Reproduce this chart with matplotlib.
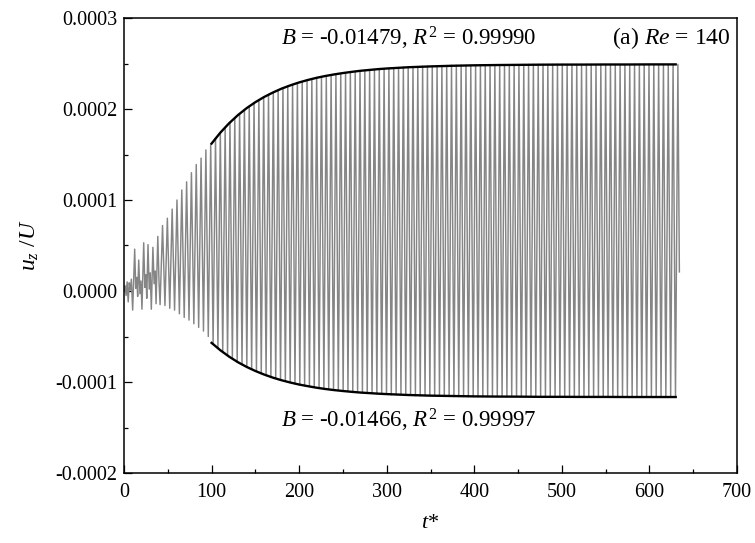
import numpy as np
import matplotlib
matplotlib.use('Agg')
import matplotlib.pyplot as plt
from matplotlib.ticker import MultipleLocator, FuncFormatter

plt.rcParams['font.family'] = ['Liberation Serif', 'DejaVu Serif']
plt.rcParams['mathtext.fontset'] = 'custom'
plt.rcParams['mathtext.rm'] = 'Liberation Serif'
plt.rcParams['mathtext.it'] = 'Liberation Serif:italic'
plt.rcParams['font.size'] = 14.5

# all u_z/U values below are in units of 1e-6

# irregular start of the signal (t*, u_z/U)
t_early = [0, 1.2, 2.4, 3.6, 4.8, 6.0, 7.2, 8.4, 9.9, 12.2, 13.4, 14.6, 15.6, 16.8,
           18.2, 19.4, 20.5, 22.5, 23.8, 25.0, 26.0, 27.4, 28.8, 30.0, 31.2, 33.0,
           34.4, 35.6, 36.6, 38.6, 40.0, 41.2]
u_early = [0, 6, -5, 10, -12, 9, 1, 13, -21, 46, 3, 15, -6, 34,
           -3, 11, -20, 53, 4, 18, -8, 51, 2, 20, -20, 48,
           8, 22, -14, 60, 10, -15]

# regular shedding: one crest and one trough per period, starting at t* = 44
period = 5.5
t_first_crest = 44.0
crests = [72, 80, 90, 100, 111, 120, 130, 139, 146, 155, 161,
          168, 174, 180, 185, 190, 195, 199, 203, 207, 210, 213, 216, 218, 221,
          223, 225, 227, 229, 230, 232, 233, 234, 235, 236, 237, 238, 239, 240,
          241, 241, 242, 242, 243, 243, 244, 244, 245, 245, 245, 246, 246, 246,
          246, 247, 247, 247, 247, 247, 247,
          248, 248, 248, 248, 248, 248, 248, 248, 248, 248, 248, 248, 248, 248, 248,
          249, 249, 249, 249, 249, 249, 249, 249, 249, 249, 249, 249, 249, 249, 249,
          249, 249, 249, 249, 249, 249, 249, 249, 249, 249, 249, 249, 249, 249, 249,
          249, 249, 249]
troughs = [-16, -19, -21, -25, -29, -32, -36, -40, -44, -50,
           -58, -63, -67, -71, -74, -78, -81, -83, -86, -88, -91, -93, -94, -96,
           -98, -99, -100, -102, -103, -104, -105, -106, -107, -107, -108, -109,
           -109, -110, -110, -111, -111, -112, -112, -112, -113, -113, -113, -114,
           -114, -114, -114, -114,
           -115, -115, -115, -115, -115, -115, -115, -115,
           -116, -116, -116, -116, -116, -116, -116, -116, -116, -116, -116, -116,
           -116, -116, -116, -116, -116, -116, -116, -116, -116, -116, -116, -116,
           -116, -116, -116, -116, -116, -116, -116, -116, -116, -116, -116, -116,
           -116, -116, -116, -116, -116, -116, -116, -116, -116, -116, -116]
t_end, u_end = 634.2, 21

# exponential fits of the envelopes
t_fit = [100, 110, 120, 130, 140, 150, 160, 170, 180, 190, 200, 210, 220, 230, 240,
         250, 260, 270, 280, 290, 300, 325, 350, 375, 400, 425, 450, 475, 500, 525,
         550, 575, 600, 625, 630]
upper_fit = [162.0, 174.0, 184.3, 193.2, 200.9, 207.5, 213.2, 218.1, 222.4, 226.0,
             229.2, 231.9, 234.3, 236.3, 238.0, 239.5, 240.8, 242.0, 242.9, 243.8,
             244.5, 245.9, 246.8, 247.5, 248.0, 248.3, 248.5, 248.7, 248.8, 248.8,
             248.9, 248.9, 249.0, 249.0, 249.0]
lower_fit = [-57.0, -65.1, -72.1, -78.2, -83.4, -87.9, -91.8, -95.2, -98.1, -100.6,
             -102.8, -104.6, -106.3, -107.7, -108.9, -109.9, -110.8, -111.6, -112.2,
             -112.8, -113.3, -114.3, -115.0, -115.4, -115.8, -116.0, -116.1, -116.3,
             -116.3, -116.4, -116.4, -116.5, -116.5, -116.5, -116.5]

# assemble the zig-zag signal
t_crest = t_first_crest + period * np.arange(len(crests))
t_trough = t_crest[:len(troughs)] + period / 2
t_reg = np.empty(len(crests) + len(troughs))
u_reg = np.empty(len(crests) + len(troughs))
t_reg[0::2] = t_crest
t_reg[1::2] = t_trough
u_reg[0::2] = crests
u_reg[1::2] = troughs
t_sig = np.concatenate([t_early, t_reg, [t_end]])
u_sig = np.concatenate([u_early, u_reg, [u_end]]) * 1e-6

fig = plt.figure(figsize=(7.55, 5.43), dpi=100)
ax = fig.add_axes([124 / 755, 70 / 543, 613 / 755, 455 / 543])

ax.plot(t_sig, u_sig, color='#858585', lw=1.05)
ax.plot(t_fit, np.array(upper_fit) * 1e-6, color='black', lw=1.7)
ax.plot(t_fit, np.array(lower_fit) * 1e-6, color='black', lw=1.7)

ax.set_xlim(0, 700)
ax.set_ylim(-0.0002, 0.0003)
ax.xaxis.set_major_locator(MultipleLocator(100))
ax.xaxis.set_minor_locator(MultipleLocator(50))
ax.yaxis.set_major_locator(MultipleLocator(0.0001))
ax.yaxis.set_minor_locator(MultipleLocator(0.00005))
ax.yaxis.set_major_formatter(FuncFormatter(lambda v, p: f'{v:.4f}'.replace('-0.0000', '0.0000')))
ax.xaxis.set_major_formatter(FuncFormatter(lambda v, p: f'{v:.0f}'))
ax.tick_params(which='both', direction='in', top=False, right=False, width=0.9)
ax.tick_params(which='major', length=5.5, pad=5)
ax.tick_params(which='minor', length=3)
ax.tick_params(axis='x', pad=7)
for s in ax.spines.values():
    s.set_linewidth(1.1)

ax.set_xlabel(r'$t$*', fontsize=16, labelpad=9)
ax.set_ylabel(r'$u_z$ /$U$', fontsize=17, labelpad=10)

ax.text(0.465, 0.955, r'$B$ = -0.01479, $R^2$ = 0.99990', transform=ax.transAxes,
        ha='center', va='center', fontsize=16.5)
ax.text(0.465, 0.115, r'$B$ = -0.01466, $R^2$ = 0.99997', transform=ax.transAxes,
        ha='center', va='center', fontsize=16.5)
ax.text(0.99, 0.955, r'(a) $Re$ = 140', transform=ax.transAxes, ha='right', va='center',
        fontsize=17)

fig.savefig('out.png', dpi=100)
